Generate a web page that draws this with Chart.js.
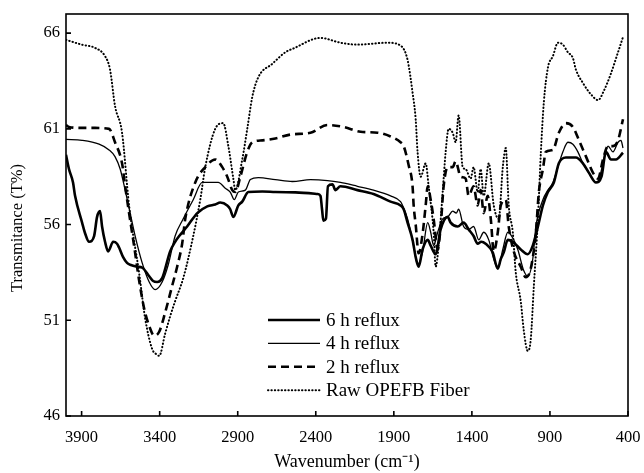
<!DOCTYPE html>
<html lang="en">
<head>
  <meta charset="UTF-8">
  <title>FTIR spectra</title>
  <script src="https://cdn.jsdelivr.net/npm/chart.js"></script>
  <style>
    html, body { margin: 0; padding: 0; background: #fff; }
    #wrap { width: 644px; height: 473px; }
  </style>
</head>
<body>
  <div id="wrap"><canvas id="ftirChart" width="644" height="473"></canvas></div>

  <script>
    // [wavenumber cm-1, transmittance %]
    const sixHour = [
      [4000, 59.65], [3981, 58.9], [3955, 58.2], [3942, 57.5], [3897, 56.1], [3880, 55.6], [3852, 55.1],
      [3820, 55.4], [3801, 56.4], [3782, 56.7], [3769, 55.9], [3750, 55.1], [3730, 54.6], [3698, 55.1],
      [3673, 55.0], [3660, 54.8], [3634, 54.3], [3609, 54.0], [3589, 53.9], [3544, 53.8], [3512, 53.75],
      [3467, 53.3], [3442, 53.05], [3416, 53.0], [3384, 53.2], [3333, 54.6], [3301, 55.1], [3275, 55.4],
      [3224, 55.9], [3159, 56.6], [3095, 56.95], [3044, 57.05], [3012, 57.15], [2967, 57.0], [2948, 56.8],
      [2928, 56.4], [2896, 57.0], [2871, 57.2], [2832, 57.7], [2742, 57.73], [2659, 57.7], [2530, 57.68],
      [2389, 57.6], [2370, 57.5], [2360, 56.8], [2351, 56.2], [2335, 56.3], [2322, 58.0], [2293, 58.1],
      [2274, 57.8], [2242, 58.0], [2133, 57.8], [2030, 57.6], [1921, 57.2], [1857, 57.0], [1837, 56.8],
      [1812, 56.1], [1780, 55.2], [1760, 54.3], [1741, 53.8], [1716, 54.7], [1683, 55.2], [1664, 54.9],
      [1632, 54.45], [1600, 55.75], [1555, 56.4], [1536, 56.1], [1491, 55.9], [1453, 56.1], [1421, 55.75],
      [1389, 55.4], [1363, 55.0], [1340, 55.1], [1312, 55.0], [1267, 54.55], [1234, 53.7], [1215, 54.2],
      [1196, 54.55], [1170, 55.2], [1138, 55.1], [1087, 54.7], [1042, 54.45], [1010, 54.9], [977, 55.9],
      [945, 57.0], [913, 57.7], [875, 58.2], [843, 59.2], [798, 59.5], [734, 59.5], [689, 59.2],
      [650, 58.7], [605, 58.2], [570, 58.5], [541, 59.8], [509, 59.4], [477, 59.4], [432, 59.75]
    ];

    const fourHour = [
      [4000, 60.45], [3897, 60.4], [3788, 60.2], [3724, 59.9], [3686, 59.55], [3653, 58.9], [3621, 57.8],
      [3589, 56.6], [3557, 55.4], [3512, 54.0], [3467, 53.0], [3429, 52.6], [3384, 53.0], [3345, 53.9],
      [3301, 55.4], [3249, 56.3], [3185, 57.3], [3127, 58.2], [3095, 58.2], [3025, 58.2], [2980, 57.9],
      [2948, 57.7], [2922, 57.3], [2896, 57.7], [2851, 57.8], [2819, 58.35], [2768, 58.45], [2659, 58.35],
      [2550, 58.25], [2434, 58.35], [2325, 58.3], [2242, 58.2], [2133, 58.0], [2030, 57.8], [1921, 57.5],
      [1857, 57.2], [1844, 57.0], [1812, 56.3], [1773, 54.9], [1748, 53.9], [1716, 54.55], [1683, 56.1],
      [1664, 55.6], [1645, 54.9], [1619, 55.6], [1587, 56.3], [1555, 56.4], [1523, 56.7], [1500, 56.6],
      [1485, 56.8], [1453, 55.9], [1421, 55.75], [1389, 55.9], [1356, 55.2], [1324, 55.6], [1292, 55.2],
      [1260, 54.2], [1234, 53.7], [1202, 54.7], [1170, 55.6], [1138, 55.3], [1106, 54.7], [1068, 53.6],
      [1042, 53.3], [1010, 54.2], [990, 55.9], [945, 57.3], [913, 57.8], [881, 58.2], [849, 59.0],
      [817, 59.8], [785, 60.3], [753, 60.2], [721, 59.8], [689, 59.2], [650, 58.7], [605, 58.2],
      [586, 58.35], [560, 59.2], [528, 60.1], [496, 59.8], [464, 60.3], [445, 60.4], [432, 60.0]
    ];

    const twoHour = [
      [4000, 61.2], [3981, 61.1], [3897, 61.05], [3814, 61.05], [3724, 61.0], [3686, 60.3], [3641, 59.2],
      [3621, 58.0], [3596, 56.6], [3564, 54.9], [3532, 53.1], [3499, 51.6], [3467, 50.7], [3435, 50.2],
      [3403, 50.4], [3365, 51.4], [3320, 52.8], [3288, 53.8], [3256, 55.0], [3236, 56.3], [3172, 58.2],
      [3108, 59.0], [3044, 59.4], [2999, 59.0], [2967, 58.5], [2935, 57.8], [2916, 57.7], [2883, 58.5],
      [2839, 59.8], [2806, 60.3], [2742, 60.4], [2659, 60.5], [2563, 60.7], [2434, 60.8], [2325, 61.2],
      [2223, 61.1], [2113, 60.85], [2004, 60.8], [1921, 60.6], [1857, 60.3], [1837, 60.1], [1805, 59.1],
      [1780, 58.0], [1773, 57.0], [1760, 56.0], [1741, 54.5], [1716, 55.5], [1696, 57.0], [1683, 58.0],
      [1664, 57.3], [1645, 56.3], [1619, 54.7], [1600, 55.9], [1581, 58.0], [1555, 59.0], [1523, 59.0],
      [1504, 59.3], [1472, 58.5], [1440, 58.4], [1421, 57.5], [1389, 58.0], [1363, 57.0], [1344, 57.8],
      [1324, 56.6], [1299, 57.5], [1279, 56.3], [1260, 54.6], [1234, 55.6], [1215, 57.0], [1183, 57.3],
      [1164, 55.9], [1132, 54.6], [1087, 53.8], [1055, 53.25], [1023, 53.7], [990, 55.6], [971, 57.7],
      [945, 58.9], [926, 59.8], [881, 59.9], [843, 60.8], [798, 61.3], [753, 61.1], [714, 60.4],
      [669, 59.55], [624, 58.7], [592, 58.4], [560, 59.4], [528, 60.1], [496, 60.1], [464, 60.4], [432, 61.5]
    ];

    const rawFiber = [
      [4000, 65.65], [3900, 65.4], [3814, 65.23], [3750, 64.8], [3718, 64.1], [3686, 62.2], [3641, 60.8],
      [3596, 57.0], [3532, 53.5], [3493, 51.1], [3448, 49.5], [3416, 49.2], [3403, 49.14], [3365, 50.3],
      [3333, 51.2], [3301, 52.0], [3249, 53.2], [3185, 55.4], [3140, 57.3], [3108, 59.0], [3044, 61.0],
      [2993, 61.3], [2960, 60.1], [2928, 58.4], [2916, 57.8], [2871, 59.4], [2839, 61.0], [2806, 62.7],
      [2768, 63.7], [2678, 64.4], [2595, 65.0], [2543, 65.2], [2370, 65.75], [2242, 65.5], [2133, 65.4],
      [1940, 65.5], [1857, 65.35], [1812, 64.6], [1780, 62.9], [1760, 61.5], [1748, 59.8], [1728, 58.5],
      [1696, 59.2], [1677, 58.0], [1645, 55.6], [1632, 53.8], [1613, 54.9], [1587, 57.7], [1568, 59.8],
      [1549, 61.0], [1523, 60.8], [1504, 60.3], [1485, 61.7], [1459, 59.0], [1440, 58.9], [1408, 58.4],
      [1389, 59.0], [1363, 57.7], [1344, 58.9], [1324, 57.5], [1292, 59.2], [1260, 57.0], [1228, 56.3],
      [1202, 59.0], [1183, 60.0], [1164, 57.0], [1138, 55.6], [1119, 53.5], [1087, 52.0], [1068, 50.5],
      [1042, 49.4], [1023, 50.0], [1003, 52.8], [977, 56.3], [958, 59.8], [939, 62.4], [913, 64.2],
      [881, 64.8], [849, 65.5], [817, 65.4], [785, 65.0], [753, 64.7], [734, 64.1], [689, 63.4],
      [637, 62.8], [592, 62.5], [554, 63.0], [509, 63.9], [464, 65.0], [432, 65.8]
    ];

    const seriesLabels = ['6 h reflux', '4 h reflux', '2 h reflux', 'Raw OPEFB Fiber'];
    const xTicks = [3900, 3400, 2900, 2400, 1900, 1400, 900, 400];
    const yTicks = [46, 51, 56, 61, 66];

    const serif = 'Liberation Serif, Times New Roman, serif';
    const toPoints = arr => arr.map(p => ({ x: p[0], y: p[1] }));

    // box, inward ticks, y title and the in-plot legend
    const framePlugin = {
      id: 'frame',
      afterDraw(chart) {
        const { ctx, chartArea: a, scales: { x, y } } = chart;
        ctx.save();
        ctx.strokeStyle = '#000';
        ctx.lineWidth = 1.6;
        ctx.setLineDash([]);
        ctx.strokeRect(a.left, a.top, a.right - a.left, a.bottom - a.top);
        ctx.beginPath();
        xTicks.forEach(v => {
          const px = x.getPixelForValue(v);
          ctx.moveTo(px, a.bottom);
          ctx.lineTo(px, a.bottom - 5);
        });
        yTicks.forEach(v => {
          const py = y.getPixelForValue(v);
          ctx.moveTo(a.left, py);
          ctx.lineTo(a.left + 5, py);
        });
        ctx.stroke();

        ctx.fillStyle = '#000';
        ctx.font = '16.5px ' + serif;
        ctx.textAlign = 'center';
        ctx.textBaseline = 'middle';
        ctx.translate(18, 228);
        ctx.rotate(-Math.PI / 2);
        ctx.fillText('Transmitance (T%)', 0, 0);
        ctx.restore();

        ctx.save();
        ctx.font = '19px ' + serif;
        ctx.textAlign = 'left';
        ctx.textBaseline = 'middle';
        ctx.fillStyle = '#000';
        chart.data.datasets.forEach((ds, i) => {
          const ly = a.top + 306 + i * 23.4;
          ctx.strokeStyle = '#000';
          ctx.lineWidth = ds.borderWidth;
          ctx.lineCap = ds.borderCapStyle || 'butt';
          ctx.setLineDash(ds.borderDash || []);
          ctx.beginPath();
          ctx.moveTo(a.left + 202, ly);
          ctx.lineTo(a.left + 254, ly);
          ctx.stroke();
          ctx.fillText(ds.label, a.left + 260, ly + 1);
        });
        ctx.restore();
      }
    };

    new Chart(document.getElementById('ftirChart').getContext('2d'), {
      type: 'line',
      data: {
        datasets: [
          { label: seriesLabels[0], data: toPoints(sixHour), borderColor: '#000', borderWidth: 2.6 },
          { label: seriesLabels[1], data: toPoints(fourHour), borderColor: '#000', borderWidth: 1.3 },
          { label: seriesLabels[2], data: toPoints(twoHour), borderColor: '#000', borderWidth: 2.6, borderDash: [8, 5] },
          {
            label: seriesLabels[3], data: toPoints(rawFiber), borderColor: '#000', borderWidth: 2,
            borderCapStyle: 'round', borderDash: [0.4, 3]
          }
        ]
      },
      options: {
        responsive: false,
        animation: false,
        events: [],
        layout: { padding: { top: 14, right: 16, left: 0, bottom: 0 } },
        elements: {
          point: { radius: 0 },
          line: { cubicInterpolationMode: 'monotone', fill: false }
        },
        plugins: {
          legend: { display: false },
          tooltip: { enabled: false }
        },
        scales: {
          x: {
            type: 'linear',
            reverse: true,
            min: 400,
            max: 4000,
            afterBuildTicks: s => { s.ticks = xTicks.map(v => ({ value: v })); },
            afterFit: s => { s.height = 57; s.paddingLeft = 0; s.paddingRight = 0; },
            grid: { display: false, drawTicks: false },
            border: { display: false },
            ticks: {
              color: '#000',
              font: { family: serif, size: 16.5 },
              padding: 12,
              maxRotation: 0,
              autoSkip: false,
              callback: v => String(v)
            },
            title: {
              display: true,
              text: 'Wavenumber (cm\u207B\u00B9)',
              color: '#000',
              font: { family: serif, size: 18 },
              padding: { top: 0, bottom: 0 }
            }
          },
          y: {
            min: 46,
            max: 67,
            afterBuildTicks: s => { s.ticks = yTicks.map(v => ({ value: v })); },
            afterFit: s => { s.width = 66; s.paddingTop = 0; s.paddingBottom = 0; },
            grid: { display: false, drawTicks: false },
            border: { display: false },
            ticks: { color: '#000', font: { family: serif, size: 16.5 }, padding: 6 }
          }
        }
      },
      plugins: [framePlugin]
    });
  </script>
</body>
</html>
